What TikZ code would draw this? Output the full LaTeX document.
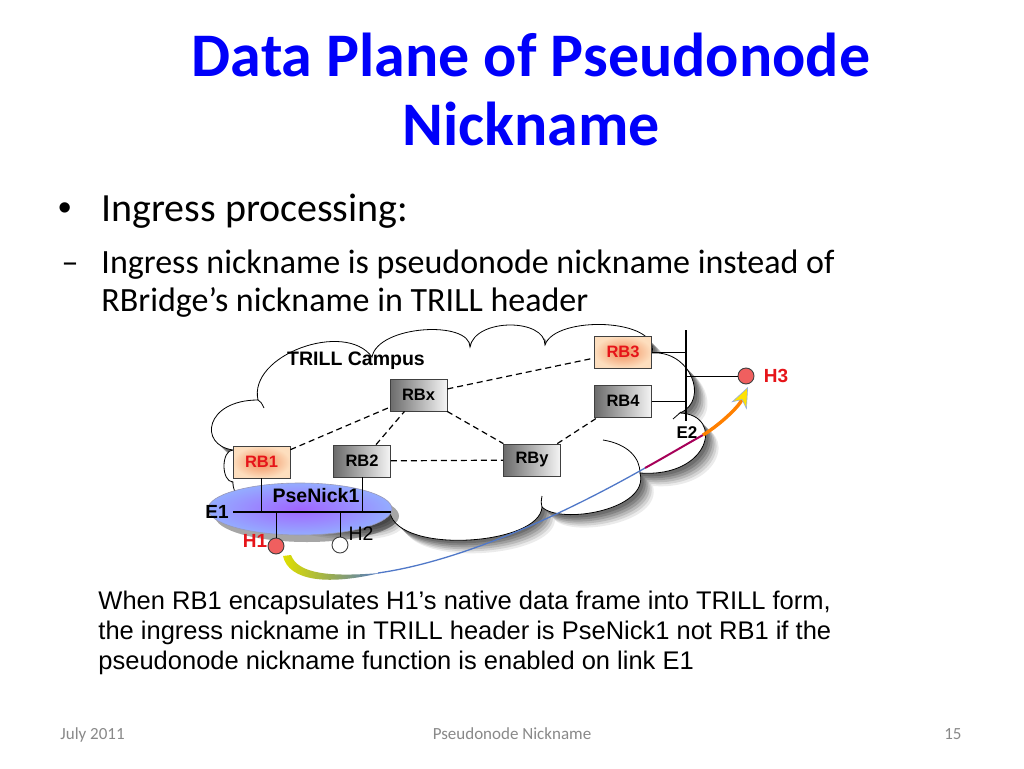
\documentclass[tikz,border=0pt]{standalone}
\usepackage{fontspec}
\setmainfont{Liberation Sans}
\newfontfamily\slidefont{Carlito}
\usetikzlibrary{arrows.meta,shadows}

\definecolor{titleblue}{RGB}{0,0,250}
\definecolor{hred}{RGB}{230,20,25}
\definecolor{hostred}{RGB}{240,95,95}
\definecolor{rbhot}{RGB}{240,140,90}
\definecolor{rbpale}{RGB}{253,222,190}
\definecolor{psein}{RGB}{160,100,255}
\definecolor{pseout}{RGB}{148,172,255}
\definecolor{arrowblue}{RGB}{80,120,200}
\definecolor{footgray}{RGB}{137,137,137}

\newcommand{\trillcloud}{(233,482) .. controls (221,482) and (221,450) .. (233,450)
  .. controls (198,445) and (205,400) .. (258,400)
  .. controls (248,355) and (345,320) .. (372,357)
  .. controls (378,325) and (470,320) .. (470,347)
  .. controls (475,318) and (545,318) .. (545,345)
  .. controls (555,315) and (660,318) .. (652,353)
  .. controls (690,350) and (710,400) .. (680,413)
  .. controls (725,415) and (710,478) .. (640,473)
  .. controls (650,510) and (560,525) .. (542,507)
  .. controls (540,545) and (400,555) .. (390,513)
  .. controls (380,540) and (230,525) .. (233,482) -- cycle}

\begin{document}
\begin{tikzpicture}[x=1pt,y=-1pt,line width=0.9pt,
  rbox/.style={draw=black!75, line width=0.8pt, minimum width=57pt, minimum height=32pt, inner sep=0pt, font=\bfseries\fontsize{16.5}{18}\selectfont, left color=black!58, right color=black!4},
  rboxhot/.style={rbox, inner color=rbhot, outer color=rbpale, text=hred},
  host/.style={circle, draw=black!75, minimum size=16pt, inner sep=0pt},
  link/.style={dash pattern=on 6pt off 4pt, line width=1.2pt},
  tag/.style={inner sep=0pt, font=\bfseries\fontsize{19}{21}\selectfont}]

\useasboundingbox (0,0) rectangle (1024,768);
\fill[white] (0,0) rectangle (1024,768);

\node[anchor=base, text=titleblue, font=\slidefont\bfseries\fontsize{62}{70}\selectfont] (nodeTitleA) at (531,77) {Data Plane of Pseudonode};
\node[anchor=base, text=titleblue, font=\slidefont\bfseries\fontsize{62}{70}\selectfont] (nodeTitleB) at (531,145) {Nickname};

\node[anchor=base, inner sep=0pt, font=\fontsize{38}{40}\selectfont] (nodeDot) at (65,220) {\textbullet};
\node[anchor=base west, inner sep=0pt, font=\slidefont\fontsize{40}{44}\selectfont] (nodeIngress) at (101,221) {Ingress processing:};
\node[anchor=base, inner sep=0pt, font=\slidefont\fontsize{34}{38}\selectfont] (nodeDash) at (70,273) {–};
\node[anchor=base west, inner sep=0pt, font=\slidefont\fontsize{34}{38}\selectfont] (nodeLineA) at (101,273) {Ingress nickname is pseudonode nickname instead of};
\node[anchor=base west, inner sep=0pt, font=\slidefont\fontsize{34}{38}\selectfont] (nodeLineB) at (101,311) {RBridge’s nickname in TRILL header};

\foreach \s/\o in {13/0.08,11/0.10,9/0.12,7/0.14,5/0.16,3/0.16} \fill[black, opacity=\o, shift={(\s,\s)}] \trillcloud;
\filldraw[fill=white, draw=black, line width=0.8pt] \trillcloud;
\draw[line width=0.8pt] (258,400) .. controls (261,402) .. (264,408);
\draw[line width=0.8pt] (681,412) -- (673,419);
\draw[line width=0.8pt] (603,440) .. controls (628,444) and (640,458) .. (640,473);
\draw[line width=0.8pt] (542,507) .. controls (541,502) .. (542,496);

\node[tag, font=\bfseries\fontsize{19.5}{21}\selectfont] (nodeCampus) at (356,361) {TRILL Campus};

\node[rboxhot] (nodeRB1) at (261.5,462) {RB1};
\node[rbox] (nodeRB2) at (362,461) {RB2};
\node[rbox] (nodeRBx) at (418.5,395) {RBx};
\node[rbox] (nodeRBy) at (532,460) {RBy};
\node[rboxhot] (nodeRB3) at (623,352) {RB3};
\node[rbox] (nodeRB4) at (623,401) {RB4};

\draw[link] (nodeRB1) -- (nodeRBx);
\draw[link] (nodeRB2) -- (nodeRBx);
\draw[link] (nodeRBx) -- (nodeRBy);
\draw[link] (nodeRB2) -- (nodeRBy);
\draw[link] (nodeRBx) -- (nodeRB3);
\draw[link] (nodeRBy) -- (nodeRB4);

\shadedraw[inner color=psein, outer color=pseout, draw=blue!30!black!40, line width=0.6pt, drop shadow={shadow xshift=7pt, shadow yshift=-7pt, fill=black, opacity=.35}] (300,509) ellipse [x radius=92, y radius=26];
\node[tag, font=\bfseries\fontsize{19.5}{21}\selectfont] (nodePse) at (316,496) {PseNick1};

\coordinate (eOneL) at (233,512);
\coordinate (eOneR) at (391,512);
\draw[line width=2.5pt] (eOneL) -- (eOneR);
\node[tag] (nodeEone) at (217,512) {E1};

\node[host, fill=hostred] (nodeHone) at (276,546) {};
\node[host, fill=white] (nodeHtwo) at (340,545) {};
\draw (nodeRB1.south) -- (nodeRB1.south |- eOneL);
\draw (nodeRB2.south) -- (nodeRB2.south |- eOneL);
\draw (nodeHone.north) -- (nodeHone.north |- eOneL);
\draw (nodeHtwo.north) -- (nodeHtwo.north |- eOneL);
\node[tag, text=hred] (nodeHoneTxt) at (255,541) {H1};
\node[inner sep=0pt, font=\fontsize{19.5}{21}\selectfont] (nodeHtwoTxt) at (361,534) {H2};

\coordinate (eTwoTop) at (686,330);
\coordinate (eTwoBot) at (686,421);
\draw[line width=2.5pt] (eTwoTop) -- (eTwoBot);
\node[tag, font=\bfseries\fontsize{17}{19}\selectfont] (nodeEtwo) at (687,433) {E2};
\node[host, fill=hostred] (nodeHthree) at (746,376) {};
\node[tag, text=hred] (nodeHthreeTxt) at (776,376) {H3};
\draw (nodeRB3.east) -- (nodeRB3.east -| eTwoTop);
\draw (nodeRB4.east) -- (nodeRB4.east -| eTwoTop);
\draw (nodeHthree.west) -- (nodeHthree.west -| eTwoTop);

\shade[left color=yellow!75!olive, middle color=orange!80!red, right color=arrowblue] (283,556) .. controls (289,582) and (330,585) .. (380,573) .. controls (330,577) and (298,574) .. (291,555) -- cycle;
\draw[arrowblue, line width=1.3pt] (378,573) .. controls (470,560) and (580,505) .. (645,468);
\draw[violet!70!red, line width=2pt] (645,468) .. controls (665,457) and (685,445) .. (703,435);
\draw[orange, line width=3.4pt, -{Stealth[length=21pt, width=17pt, fill=yellow!85!orange, color=arrowblue!60, line width=0.6pt]}] (703,435) .. controls (718,426) and (738,408) .. (748,387);

\node[anchor=base west, inner sep=0pt, font=\fontsize{25.5}{30}\selectfont] (nodeNoteA) at (98,609) {When RB1 encapsulates H1’s native data frame into TRILL form,};
\node[anchor=base west, inner sep=0pt, font=\fontsize{25.5}{30}\selectfont] (nodeNoteB) at (98,639) {the ingress nickname in TRILL header is PseNick1 not RB1 if the};
\node[anchor=base west, inner sep=0pt, font=\fontsize{25.5}{30}\selectfont] (nodeNoteC) at (98,669) {pseudonode nickname function is enabled on link E1};

\node[anchor=base west, inner sep=0pt, text=footgray, font=\slidefont\fontsize{17}{20}\selectfont] (nodeDate) at (60,739) {July 2011};
\node[anchor=base, inner sep=0pt, text=footgray, font=\slidefont\fontsize{17}{20}\selectfont] (nodeFoot) at (512,739) {Pseudonode Nickname};
\node[anchor=base east, inner sep=0pt, text=footgray, font=\slidefont\fontsize{17}{20}\selectfont] (nodePage) at (962,739) {15};

\end{tikzpicture}
\end{document}
